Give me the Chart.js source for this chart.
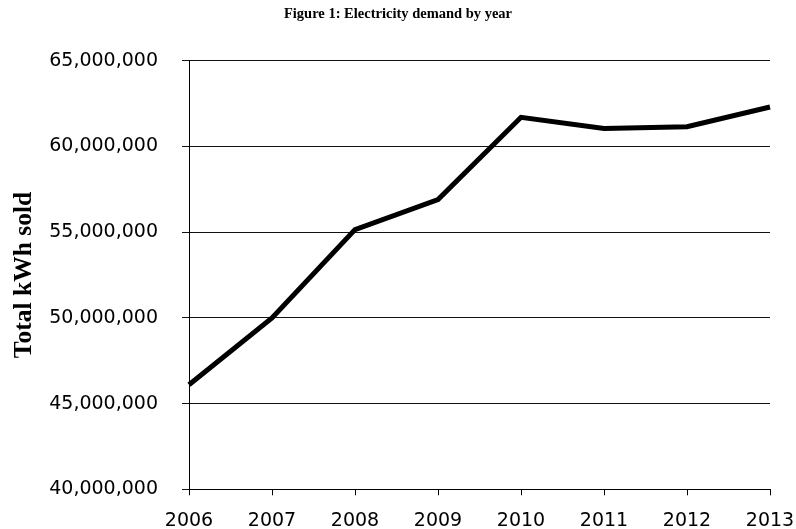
<!DOCTYPE html>
<html>
<head>
<meta charset="utf-8">
<script src="https://cdn.jsdelivr.net/npm/chart.js@4/dist/chart.umd.min.js"></script>
<style>
  html, body { margin: 0; padding: 0; background: #fff; }
  #wrap { width: 796px; height: 529px; }
</style>
</head>
<body>
<div id="wrap"><canvas id="chart" width="796" height="529"></canvas></div>
<script>
const years = ['2006', '2007', '2008', '2009', '2010', '2011', '2012', '2013'];
const kwhSold = [46100000, 50000000, 55150000, 56900000, 61700000, 61050000, 61150000, 62300000];
const yMin = 40000000;
const yMax = 65000000;
const yStep = 5000000;

const tickFont = { family: "'DejaVu Sans', Verdana, sans-serif", size: 19 };
const serifBold = "'Liberation Serif', 'Times New Roman', serif";

new Chart(document.getElementById('chart'), {
  type: 'line',
  data: {
    labels: years,
    datasets: [{
      data: kwhSold,
      borderColor: '#000',
      borderWidth: 5,
      pointRadius: 0,
      tension: 0,
      fill: false,
    }],
  },
  options: {
    responsive: false,
    animation: false,
    layout: { padding: 0 },
    plugins: {
      legend: { display: false },
      tooltip: { enabled: false },
      title: {
        display: true,
        text: 'Figure 1: Electricity demand by year',
        color: '#000',
        font: { family: serifBold, size: 14.5, weight: 'bold', lineHeight: 1.2 },
        padding: { top: 5.3, bottom: 38 },
      },
    },
    scales: {
      x: {
        offset: false,
        grid: {
          display: true,
          drawOnChartArea: false,
          drawTicks: true,
          tickLength: 6,
          color: '#000',
        },
        border: { display: true, color: '#000', width: 1 },
        ticks: { color: '#000', font: tickFont, padding: 14, maxRotation: 0 },
        afterFit: s => { s.height = 39.7; s.paddingRight = 26; },
      },
      y: {
        min: yMin,
        max: yMax,
        grid: { color: '#111', lineWidth: 1, tickLength: 7 },
        border: { display: true, color: '#000', width: 1 },
        ticks: {
          stepSize: yStep,
          color: '#000',
          font: tickFont,
          padding: 24,
          callback: v => v.toLocaleString('en-US'),
        },
        title: {
          display: true,
          text: 'Total kWh sold',
          color: '#000',
          font: { family: serifBold, size: 25.5, weight: 'bold', lineHeight: 1.2 },
          padding: { top: 9, bottom: 0 },
        },
        afterFit: s => { s.width = 189; },
      },
    },
  },
});
</script>
</body>
</html>
